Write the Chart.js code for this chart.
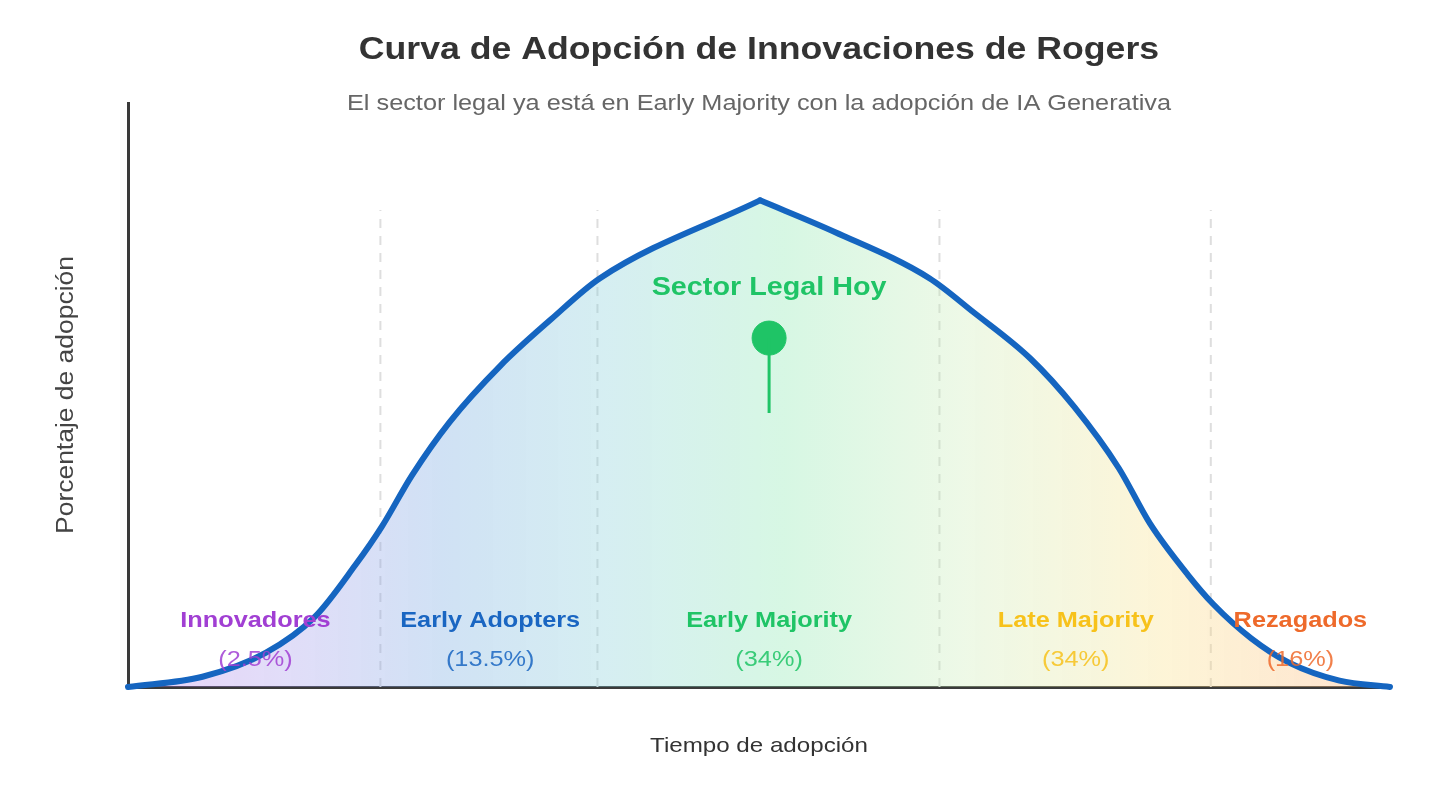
<!DOCTYPE html>
<html>
<head>
<meta charset="utf-8">
<script src="https://cdn.jsdelivr.net/npm/chart.js@4.4.1/dist/chart.umd.min.js"></script>
<style>
html,body{margin:0;padding:0;background:#fff;}
#wrap{width:1456px;height:799px;}
</style>
</head>
<body>
<div id="wrap"><canvas id="c" width="1456" height="799"></canvas></div>
<script>
// ---- data ----
const titleText = 'Curva de Adopción de Innovaciones de Rogers';
const subtitleText = 'El sector legal ya está en Early Majority con la adopción de IA Generativa';
const xAxisTitle = 'Tiempo de adopción';
const yAxisTitle = 'Porcentaje de adopción';

// rising half of the curve (up to the peak)
const riseX = [0, 5.9, 10.9, 14.8, 18.0, 20.1, 22.5, 25.5, 29.5, 33.5, 37.4, 50.08];
const riseY = [0, 2.1, 7.0, 14.4, 25.0, 32.9, 43.5, 54.5, 66.0, 75.5, 84.0, 100];
// falling half of the curve (from the peak)
const fallX = [50.08, 56.0, 63.5, 67.0, 71.5, 75.0, 78.5, 81.0, 84.0, 86.0, 89.0, 92.0, 96.0, 100];
const fallY = [100, 93.5, 84.0, 77.0, 67.5, 57.5, 45.0, 33.5, 23.0, 17.0, 10.0, 5.0, 1.3, 0];

const dividerX = [20.0, 37.2, 64.3, 85.8];
const dividerTop = 98;

const segmentNames = ['Innovadores', 'Early Adopters', 'Early Majority', 'Late Majority', 'Rezagados'];
const segmentShares = ['(2.5%)', '(13.5%)', '(34%)', '(34%)', '(16%)'];
const segmentCenters = [10.1, 28.7, 50.8, 75.1, 92.9];
const segmentColors = ['#a13fd3', '#1a66c2', '#1fc466', '#f7c21b', '#ee6a2b'];
const nameY = 13.6;
const shareY = 5.5;

const todayLabel = 'Sector Legal Hoy';
const todayX = 50.8;
const todayY = 71.7;
const todayStemBottom = 56.3;
const todayLabelY = 82;

// ---- chart ----
const FONT = '"Liberation Sans", Arial, Helvetica, sans-serif';
const STRETCH = 1.15;

const dividerSets = dividerX.map(x => ({
  data: [{x: x, y: 0}, {x: x, y: dividerTop}],
  borderColor: '#dedede',
  borderWidth: 2,
  borderDash: [9, 8],
  pointRadius: 0,
  fill: false,
  order: 5
}));

function fillGradient(ctx) {
  const ca = ctx.chart.chartArea;
  if (!ca) return 'rgba(0,0,0,0)';
  const g = ctx.chart.ctx.createLinearGradient(ca.left, 0, ca.right, 0);
  g.addColorStop(0.00, 'rgba(175,110,230,0.30)');
  g.addColorStop(0.12, 'rgba(165,150,235,0.32)');
  g.addColorStop(0.25, 'rgba(120,170,225,0.35)');
  g.addColorStop(0.38, 'rgba(130,205,215,0.33)');
  g.addColorStop(0.52, 'rgba(130,230,170,0.32)');
  g.addColorStop(0.66, 'rgba(200,235,180,0.32)');
  g.addColorStop(0.82, 'rgba(250,225,140,0.35)');
  g.addColorStop(1.00, 'rgba(252,180,130,0.40)');
  return g;
}

function stretchedText(ctx, text, x, y, rot) {
  ctx.save();
  ctx.translate(x, y);
  if (rot) ctx.rotate(rot);
  ctx.scale(STRETCH, 1);
  ctx.fillText(text, 0, 0);
  ctx.restore();
}

const curveStyle = {
  borderColor: '#1565c0',
  borderWidth: 6,
  borderCapStyle: 'round',
  borderJoinStyle: 'round',
  cubicInterpolationMode: 'monotone',
  pointRadius: 0,
  fill: 'origin',
  backgroundColor: fillGradient,
  clip: false,
  order: 1
};

const labelPlugin = {
  id: 'labels',
  afterDatasetsDraw(chart) {
    const {ctx, scales: {x, y}} = chart;
    ctx.save();
    ctx.textAlign = 'center';
    ctx.textBaseline = 'middle';
    segmentNames.forEach((n, i) => {
      const px = x.getPixelForValue(segmentCenters[i]);
      ctx.fillStyle = segmentColors[i];
      ctx.font = 'bold 22px ' + FONT;
      stretchedText(ctx, n, px, y.getPixelForValue(nameY));
      ctx.globalAlpha = 0.85;
      ctx.font = '22px ' + FONT;
      stretchedText(ctx, segmentShares[i], px, y.getPixelForValue(shareY));
      ctx.globalAlpha = 1;
    });
    ctx.fillStyle = '#1fc466';
    ctx.font = 'bold 25px ' + FONT;
    stretchedText(ctx, todayLabel, x.getPixelForValue(todayX), y.getPixelForValue(todayLabelY));
    ctx.restore();
  },
  afterDraw(chart) {
    const {ctx, chartArea} = chart;
    const cx = (chartArea.left + chartArea.right) / 2;
    const cy = (chartArea.top + chartArea.bottom) / 2;
    ctx.save();
    ctx.textAlign = 'center';
    ctx.textBaseline = 'middle';
    ctx.fillStyle = '#333';
    ctx.font = 'bold 31px ' + FONT;
    stretchedText(ctx, titleText, cx, 50);
    ctx.fillStyle = '#666';
    ctx.font = '22px ' + FONT;
    stretchedText(ctx, subtitleText, cx, 104);
    ctx.fillStyle = '#333';
    ctx.font = '21px ' + FONT;
    stretchedText(ctx, xAxisTitle, cx, chartArea.bottom + 59);
    ctx.fillStyle = '#444';
    ctx.font = '23px ' + FONT;
    stretchedText(ctx, yAxisTitle, chartArea.left - 61, cy, -Math.PI / 2);
    ctx.restore();
  }
};

new Chart(document.getElementById('c'), {
  type: 'line',
  data: {
    datasets: [
      Object.assign({data: riseX.map((v, i) => ({x: v, y: riseY[i]}))}, curveStyle),
      Object.assign({data: fallX.map((v, i) => ({x: v, y: fallY[i]}))}, curveStyle),
      {
        data: [{x: todayX, y: todayStemBottom}, {x: todayX, y: todayY}],
        borderColor: '#1fc466',
        borderWidth: 3,
        pointRadius: 0,
        fill: false,
        order: 0
      },
      {
        type: 'scatter',
        data: [{x: todayX, y: todayY}],
        backgroundColor: '#1fc466',
        borderColor: '#1fc466',
        pointRadius: 17,
        order: 0
      },
      ...dividerSets
    ]
  },
  options: {
    responsive: false,
    animation: false,
    events: [],
    layout: {padding: {top: 103, left: 128, right: 66, bottom: 112}},
    plugins: {legend: {display: false}, tooltip: {enabled: false}, title: {display: false}},
    scales: {
      x: {
        type: 'linear', min: 0, max: 100,
        ticks: {display: false},
        grid: {display: false, drawTicks: false},
        border: {display: true, color: '#3a3a3a', width: 3}
      },
      y: {
        min: 0, max: 120,
        ticks: {display: false},
        grid: {display: false, drawTicks: false},
        border: {display: true, color: '#3a3a3a', width: 3}
      }
    }
  },
  plugins: [labelPlugin]
});
</script>
</body>
</html>
